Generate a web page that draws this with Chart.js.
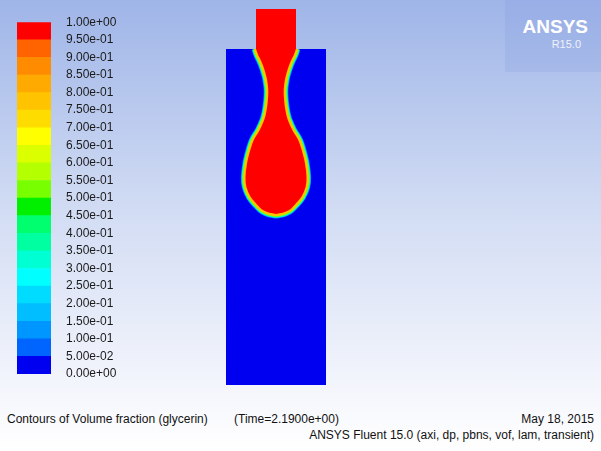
<!DOCTYPE html>
<html>
<head>
<meta charset="utf-8">
<script src="https://cdn.jsdelivr.net/npm/chart.js@4.4.0/dist/chart.umd.min.js"></script>
<style>
  html, body { margin: 0; padding: 0; }
  body {
    width: 601px; height: 451px; overflow: hidden; position: relative;
    background: linear-gradient(to bottom, #9fb5e8 0%, #d0dbf3 45%, #f3f5fc 85%, #ffffff 100%);
    font-family: "Liberation Sans", Arial, sans-serif;
    color: #111;
  }
  canvas { position: absolute; }
  #legendChart { left: 0; top: 0; }
  #contourChart { left: 200px; top: 0; }
  .logo { position: absolute; left: 505px; top: 0; width: 96px; height: 72px; background: rgba(120, 145, 220, 0.18); }
  .logo .brand { position: absolute; right: 13px; top: 17px; font: bold 19px/19px "Liberation Sans", Arial, sans-serif; color: #fff; }
  .logo .rel { position: absolute; right: 20px; top: 39px; font: 11px/11px "Liberation Sans Narrow", "Arial Narrow", "Liberation Sans", sans-serif; color: #eef2fa; }
  .txt { position: absolute; font-size: 12px; line-height: 14px; white-space: nowrap; }
</style>
</head>
<body>
<canvas id="legendChart" width="150" height="400"></canvas>
<canvas id="contourChart" width="160" height="400"></canvas>
<div class="logo"><span class="brand">ANSYS</span><span class="rel">R15.0</span></div>
<div class="txt" style="left:7px; top:412px;">Contours of Volume fraction (glycerin)</div>
<div class="txt" style="left:234px; top:412px;">(Time=2.1900e+00)</div>
<div class="txt" style="right:7px; top:412px;">May 18, 2015</div>
<div class="txt" style="right:7px; top:428px;">ANSYS Fluent 15.0 (axi, dp, pbns, vof, lam, transient)</div>
<script>
// contour levels of the volume fraction, and the colour of each band (bottom -> top)
var levels = [0.00, 0.05, 0.10, 0.15, 0.20, 0.25, 0.30, 0.35, 0.40, 0.45, 0.50,
              0.55, 0.60, 0.65, 0.70, 0.75, 0.80, 0.85, 0.90, 0.95, 1.00];
var bandColors = ["#0000f0", "#0064ff", "#0096ff", "#00beff", "#00dcff",
                  "#00ffff", "#00ffd2", "#00ffa0", "#00ff6e", "#00f000",
                  "#78ff00", "#b4ff00", "#dcff00", "#ffff00", "#ffdc00",
                  "#ffc300", "#ffaa00", "#ff8c00", "#ff6400", "#ff0000"];

// geometry: radial position r and height z (tank bottom at z = 0)
var tankR = [-50, 50, 50, -50];
var tankZ = [0, 0, 336, 336];
var nozzleR = [-20, 20, 20, -20];
var nozzleZ = [336, 336, 376, 376];

// glycerin / air interface (0.5 contour), read from the top of the tank down
var interfaceZ = [336, 330, 325, 319, 312, 305, 295, 285, 278, 270, 265, 255, 245, 235, 222, 208, 198, 188, 180, 175, 172.5, 171, 170];
var interfaceR = [21, 19, 16.5, 14, 11.7, 10, 8.8, 9.2, 10, 11.5, 13, 17.5, 23.4, 26.8, 30, 31.6, 30.7, 26.5, 20, 15, 10.5, 6, 0];

function expLabel(v) {
  return v.toExponential(2).replace(/e([+-])(\d)$/, "e$10$2");
}

function toPoints(rs, zs) {
  return rs.map(function (r, i) { return { x: r, y: zs[i] }; });
}

// left side going down, then right side going back up
var interfacePts = toPoints(interfaceR.map(function (r) { return -r; }), interfaceZ)
  .concat(toPoints(interfaceR, interfaceZ).reverse().slice(1));

new Chart("legendChart", {
  type: "bar",
  data: {
    labels: ["vf"],
    datasets: bandColors.map(function (c, i) {
      return {
        data: [[levels[i], levels[i + 1]]],
        backgroundColor: c,
        borderWidth: 0,
        grouped: false,
        barPercentage: 1,
        categoryPercentage: 1
      };
    })
  },
  options: {
    responsive: false,
    animation: false,
    layout: { padding: { left: 17, right: 0, top: 19, bottom: 26 } },
    plugins: { legend: { display: false }, tooltip: { enabled: false } },
    scales: {
      x: { display: false },
      y: {
        position: "right",
        min: 0,
        max: 1,
        grid: { display: false, drawTicks: false },
        border: { display: false },
        afterBuildTicks: function (axis) {
          axis.ticks = levels.map(function (v) { return { value: v }; });
        },
        afterFit: function (axis) { axis.width = 99; },
        ticks: {
          autoSkip: false,
          padding: 15,
          color: "#1a1a1a",
          font: { family: "'Liberation Sans', Arial, sans-serif", size: 12 },
          callback: function (v) { return expLabel(v); }
        }
      }
    }
  }
});

new Chart("contourChart", {
  type: "line",
  data: {
    datasets: [
      { data: toPoints(nozzleR, nozzleZ), fill: "shape", backgroundColor: bandColors[19], borderWidth: 0, tension: 0, order: 0 },
      { data: interfacePts, fill: "shape", backgroundColor: bandColors[19], borderColor: bandColors[15], borderWidth: 2.2, tension: 0.35, order: 1 },
      { data: interfacePts, fill: false, borderColor: bandColors[10], borderWidth: 4, tension: 0.35, order: 2 },
      { data: interfacePts, fill: false, borderColor: bandColors[6], borderWidth: 5.4, tension: 0.35, order: 3 },
      { data: interfacePts, fill: false, borderColor: bandColors[2], borderWidth: 7, tension: 0.35, order: 4 },
      { data: toPoints(tankR, tankZ), fill: "shape", backgroundColor: bandColors[0], borderWidth: 0, tension: 0, order: 5 }
    ]
  },
  options: {
    responsive: false,
    animation: false,
    layout: { padding: { left: 26, right: 34, top: 9, bottom: 15 } },
    elements: { point: { radius: 0 } },
    plugins: { legend: { display: false }, tooltip: { enabled: false } },
    scales: {
      x: { type: "linear", min: -50, max: 50, display: false },
      y: { type: "linear", min: 0, max: 376, display: false }
    }
  }
});
</script>
</body>
</html>
